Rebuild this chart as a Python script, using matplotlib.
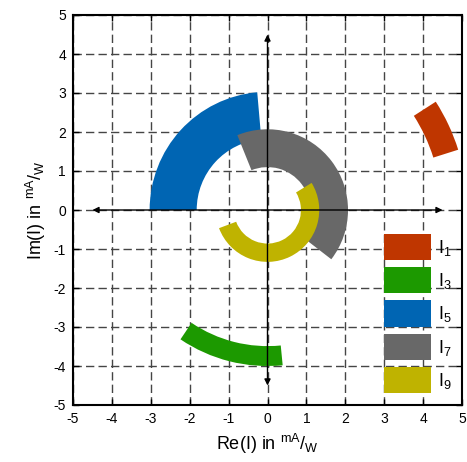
import matplotlib
matplotlib.use('Agg')
import matplotlib.pyplot as plt
from matplotlib.patches import Wedge, Patch

plt.rcParams['font.family'] = ['Liberation Sans', 'DejaVu Sans']
plt.rcParams['mathtext.fontset'] = 'custom'
plt.rcParams['mathtext.rm'] = 'Liberation Sans'
plt.rcParams['mathtext.it'] = 'Liberation Sans:italic'
plt.rcParams['mathtext.default'] = 'regular'
plt.rcParams['axes.unicode_minus'] = False

# harmonic currents: annular sectors in the complex plane
labels = ['I$_1$', 'I$_3$', 'I$_5$', 'I$_7$', 'I$_9$']
r_inner = [4.47, 3.49, 1.82, 1.10, 0.86]
r_outer = [5.14, 4.00, 3.03, 2.07, 1.33]
theta_start = [17.5, -124.0, 95.0, -37.6, -159.5]
theta_end = [32.7, -84.4, 180.0, 112.0, 31.5]
colors = ['#BF3600', '#1C9900', '#0065B3', '#686868', '#BFB300']

ticks = list(range(-5, 6))
arrow_extent = 4.5

fig = plt.figure(figsize=(4.67, 4.62), dpi=100)
ax = fig.add_axes([73 / 467, 57 / 462, 389 / 467, 390 / 462])

for ri, ro, t1, t2, c in zip(r_inner, r_outer, theta_start, theta_end, colors):
    ax.add_patch(Wedge((0, 0), ro, t1, t2, width=ro - ri, facecolor=c,
                       edgecolor='none', zorder=2))

# axis arrows through origin
ax.annotate('', xy=(arrow_extent, 0), xytext=(-arrow_extent, 0),
            arrowprops=dict(arrowstyle='<|-|>', color='black', lw=1,
                            mutation_scale=9, shrinkA=0, shrinkB=0), zorder=3)
ax.annotate('', xy=(0, arrow_extent), xytext=(0, -arrow_extent),
            arrowprops=dict(arrowstyle='<|-|>', color='black', lw=1,
                            mutation_scale=9, shrinkA=0, shrinkB=0), zorder=3)

ax.set_xlim(-5, 5)
ax.set_ylim(-5, 5)
ax.set_xticks(ticks)
ax.set_yticks(ticks)
ax.grid(True, color='#454545', linestyle=(0, (6, 3)), linewidth=1.0, zorder=0)
ax.set_axisbelow(True)
ax.tick_params(direction='in', length=4, width=1, top=True, right=True,
               labelsize=10, pad=5)
for s in ax.spines.values():
    s.set_linewidth(1.5)

ax.set_xlabel(r'Re(I) in $^{mA}/_{W}$', fontsize=13, labelpad=4)
ax.set_ylabel(r'Im(I) in $^{mA}/_{W}$', fontsize=13, labelpad=4)

handles = [Patch(facecolor=c, edgecolor='none') for c in colors]
ax.legend(handles, labels, loc='lower right', bbox_to_anchor=(0.973, 0.03),
          frameon=False, fontsize=13, handlelength=2.6, handleheight=1.85,
          handletextpad=0.4, labelspacing=0.4, borderpad=0, borderaxespad=0)

fig.savefig('out.png', dpi=100)
